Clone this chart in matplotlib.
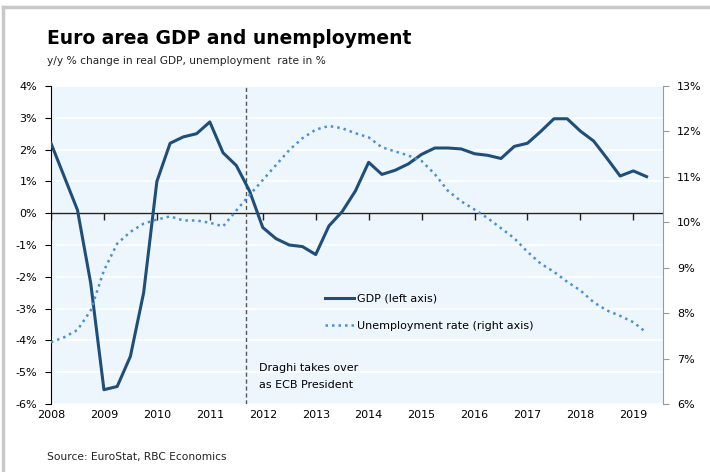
import matplotlib
matplotlib.use("Agg")
import matplotlib.pyplot as plt
from matplotlib.lines import Line2D
import numpy as np

# quarterly data, 2008Q1 .. 2019Q2
start_year = 2008
gdp = [2.2, 1.15, 0.1, -2.2, -5.55, -5.45, -4.5, -2.5,
       1.0, 2.2, 2.4, 2.5, 2.87, 1.9, 1.5, 0.7,
       -0.45, -0.8, -1.0, -1.05, -1.3, -0.4, 0.05, 0.7,
       1.6, 1.22, 1.35, 1.55, 1.85, 2.05, 2.05, 2.02,
       1.87, 1.82, 1.72, 2.1, 2.2, 2.57, 2.97, 2.97,
       2.58, 2.27, 1.73, 1.17, 1.33, 1.15]
unemployment = [7.36, 7.47, 7.63, 8.06, 8.94, 9.53, 9.79, 9.97,
                10.06, 10.13, 10.04, 10.04, 9.99, 9.91, 10.26, 10.6,
                10.93, 11.26, 11.59, 11.85, 12.04, 12.12, 12.07, 11.96,
                11.87, 11.65, 11.56, 11.47, 11.35, 11.06, 10.69, 10.46,
                10.28, 10.09, 9.87, 9.65, 9.35, 9.09, 8.91, 8.69,
                8.5, 8.24, 8.06, 7.94, 7.8, 7.57]
years = list(range(2008, 2020))
left_ticks = list(range(-6, 5))
right_ticks = list(range(6, 14))
draghi_date = 2011.68

x = start_year + np.arange(len(gdp)) / 4.0

gdp_color = "#1f4e79"
unemp_color = "#4a90d9"
bg_color = "#eef6fd"

fig = plt.figure(figsize=(7.1, 4.72), dpi=100)
ax = fig.add_axes([51 / 710, 1 - 404 / 472, 612 / 710, 318 / 472])
ax.set_facecolor(bg_color)

# white horizontal grid
ax.set_yticks(left_ticks)
ax.set_yticklabels(["%d%%" % t for t in left_ticks], fontsize=8)
ax.yaxis.grid(True, color="white", linewidth=1.2)
ax.set_axisbelow(True)
ax.set_ylim(-6, 4)
ax.set_xlim(2008, 2019.56)

ax.axhline(0, color="#222222", linewidth=1, zorder=2)
ax.axvline(draghi_date, color="#555555", linewidth=1, linestyle=(0, (3, 2)), zorder=2)

ax.plot(x, gdp, color=gdp_color, linewidth=2.2, zorder=4)

ax2 = ax.twinx()
ax2.set_ylim(6, 13)
ax2.set_yticks(right_ticks)
ax2.set_yticklabels(["%d%%" % t for t in right_ticks], fontsize=8)
ax2.plot(x, unemployment, color=unemp_color, linewidth=1.8,
         linestyle=(0, (1, 1.6)), zorder=3)

# spines
for a in (ax, ax2):
    a.spines["top"].set_visible(False)
    a.spines["bottom"].set_visible(False)
ax.spines["right"].set_visible(False)
ax.spines["left"].set_color("black")
ax2.spines["left"].set_visible(False)
ax2.spines["right"].set_color("#999999")
ax.tick_params(axis="y", length=4, color="black", pad=6)
ax2.tick_params(axis="y", length=4, color="#999999", pad=6)

# year ticks on the zero line, labels at the bottom
ax.set_xticks(years)
ax.tick_params(axis="x", length=0, labelbottom=False)
ax.vlines(years, -0.22, 0, color="#222222", linewidth=1, zorder=2)
for yr in years:
    ax.text(yr, -0.02, str(yr), transform=ax.get_xaxis_transform(),
            ha="center", va="top", fontsize=8)

ax.text(2011.93, -4.7, "Draghi takes over\nas ECB President", fontsize=8,
        va="top", ha="left", linespacing=1.9)

handles = [Line2D([], [], color=gdp_color, linewidth=2.2),
           Line2D([], [], color=unemp_color, linewidth=1.8, linestyle=(0, (1, 1.6)))]
ax.legend(handles, ["GDP (left axis)", "Unemployment rate (right axis)"],
          loc="upper left", bbox_to_anchor=(0.44, 0.36), frameon=False,
          fontsize=8, handlelength=2.6, handletextpad=0.3, labelspacing=1.5,
          borderaxespad=0)

fig.text(47 / 710, 1 - 38 / 472, "Euro area GDP and unemployment",
         fontsize=13.5, fontweight="bold", va="center", ha="left")
fig.text(47 / 710, 1 - 61 / 472, "y/y % change in real GDP, unemployment  rate in %",
         fontsize=7.7, va="center", ha="left", color="#222222")
fig.text(47 / 710, 1 - 457 / 472, "Source: EuroStat, RBC Economics",
         fontsize=7.7, va="center", ha="left", color="#222222")

# light frame on top and left
fig.add_artist(Line2D([3 / 710, 3 / 710], [0, 1 - 7 / 472], color="#c8c8c8",
                      linewidth=2.5, transform=fig.transFigure))
fig.add_artist(Line2D([3 / 710, 1], [1 - 7 / 472, 1 - 7 / 472], color="#c8c8c8",
                      linewidth=2.5, transform=fig.transFigure))

fig.savefig("out.png", dpi=100)
